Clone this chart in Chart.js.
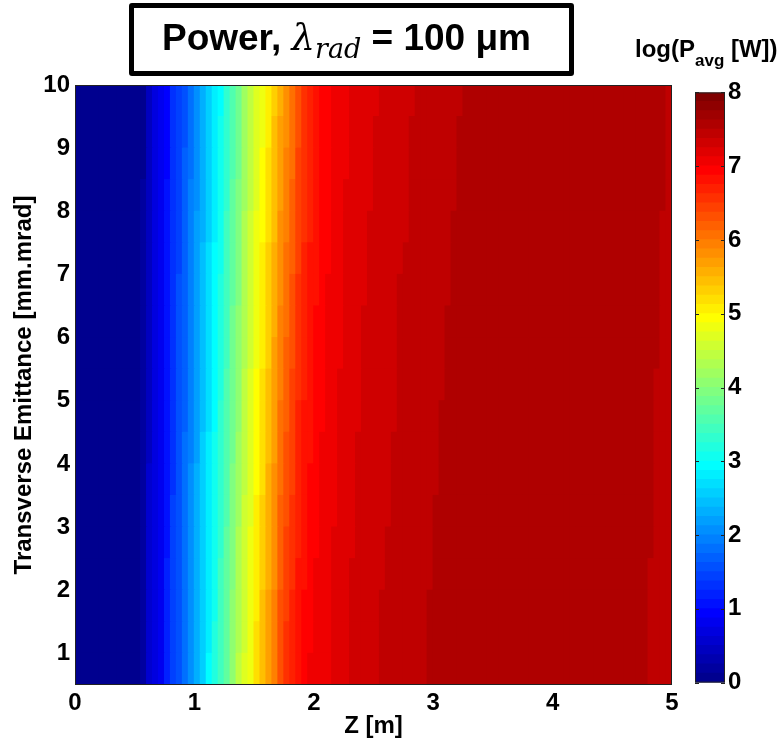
<!DOCTYPE html>
<html>
<head>
<meta charset="utf-8">
<title>Power, lambda_rad = 100 um</title>
<script src="https://cdn.jsdelivr.net/npm/chart.js@4.4.1/dist/chart.umd.min.js"></script>
<style>
  body { margin: 0; background: #fff; }
  #wrap { position: relative; width: 784px; height: 742px; overflow: hidden; }
  #heat { position: absolute; left: 0; top: 0; }
  #cbar { position: absolute; left: 690px; top: 75px; }
  #title {
    position: absolute; left: 129px; top: 3px; width: 445px; height: 73px;
    box-sizing: border-box; border: 5px solid #000; border-radius: 3px;
    font: bold 37px "Liberation Sans", Arial, sans-serif; color: #000;
    text-align: center; line-height: 60px; white-space: nowrap; padding-right: 10px;
  }
  #title .math { font-family: "DejaVu Serif", serif; font-style: italic; font-weight: normal; }
  #title sub { font-size: 27px; vertical-align: -8px; line-height: 0; }
  #cblabel {
    position: absolute; left: 635px; top: 37px; white-space: nowrap;
    font: bold 24px "Liberation Sans", Arial, sans-serif;
    line-height: 24px; color: #000;
  }
  #cblabel sub { font-size: 17px; vertical-align: -9px; line-height: 0; }
</style>
</head>
<body>
<div id="wrap">
  <canvas id="heat" width="784" height="742"></canvas>
  <canvas id="cbar" width="94" height="625"></canvas>
  <div id="title">Power, <span class="math">λ<sub>rad</sub></span> = 100 μm</div>
  <div id="cblabel">log(P<sub>avg</sub> [W])</div>
</div>
<script>
// Z des cellules (centres, m)
const zCentres = [0.025, 0.075, 0.125, 0.175, 0.225, 0.275, 0.325, 0.375, 0.425, 0.475,
  0.525, 0.575, 0.625, 0.675, 0.725, 0.775, 0.825, 0.875, 0.925, 0.975,
  1.025, 1.075, 1.125, 1.175, 1.225, 1.275, 1.325, 1.375, 1.425, 1.475,
  1.525, 1.575, 1.625, 1.675, 1.725, 1.775, 1.825, 1.875, 1.925, 1.975,
  2.025, 2.075, 2.125, 2.175, 2.225, 2.275, 2.325, 2.375, 2.425, 2.475,
  2.525, 2.575, 2.625, 2.675, 2.725, 2.775, 2.825, 2.875, 2.925, 2.975,
  3.025, 3.075, 3.125, 3.175, 3.225, 3.275, 3.325, 3.375, 3.425, 3.475,
  3.525, 3.575, 3.625, 3.675, 3.725, 3.775, 3.825, 3.875, 3.925, 3.975,
  4.025, 4.075, 4.125, 4.175, 4.225, 4.275, 4.325, 4.375, 4.425, 4.475,
  4.525, 4.575, 4.625, 4.675, 4.725, 4.775, 4.825, 4.875, 4.925, 4.975];

// bords des lignes d'emittance (mm.mrad)
const emittanceEdges = [0.5, 1, 1.5, 2, 2.5, 3, 3.5, 4, 4.5, 5, 5.5, 6, 6.5, 7, 7.5, 8, 8.5, 9, 9.5, 10];

const zTicks = [0, 1, 2, 3, 4, 5];
const emittanceTicks = [1, 2, 3, 4, 5, 6, 7, 8, 9, 10];
const colourTicks = [0, 1, 2, 3, 4, 5, 6, 7, 8];

// log10(Pavg [W]) : une colonne par Z, valeurs de l'emittance 0.5 (bas) a 10 (haut)
const logPowerByZ = [
  [0,0,0,0,0,0,0,0,0,0,0,0,0,0,0,0,0,0,0],
  [0,0,0,0,0,0,0,0,0,0,0,0,0,0,0,0,0,0,0],
  [0,0,0,0,0,0,0,0,0,0,0,0,0,0,0,0,0,0,0],
  [0,0,0,0,0,0,0,0,0,0,0,0,0,0,0,0,0,0,0],
  [0,0,0,0,0,0,0,0,0,0,0,0,0,0,0,0,0,0,0],
  [0,0,0,0,0,0,0,0,0,0,0,0,0,0,0,0,0,0,0],
  [0,0,0,0,0,0,0,0,0,0,0,0,0,0,0,0,0,0,0],
  [0,0,0,0,0,0,0,0,0,0,0,0,0,0,0,0,0,0,0],
  [0,0,0,0,0,0,0,0,0,0,0,0,0,0,0,0,0,0,0],
  [0,0,0,0,0,0,0,0,0,0,0,0,0,0,0,0,0,0,0],
  [0.08,0.08,0.08,0.07,0.07,0.07,0.07,0.06,0.06,0.06,0.06,0.06,0.05,0.05,0.05,0.05,0.04,0.04,0.04],
  [0.16,0.16,0.16,0.15,0.15,0.15,0.15,0.14,0.14,0.14,0.14,0.14,0.13,0.13,0.13,0.13,0.12,0.12,0.12],
  [0.52,0.52,0.51,0.51,0.50,0.50,0.50,0.49,0.49,0.49,0.48,0.48,0.47,0.47,0.47,0.46,0.46,0.45,0.45],
  [0.72,0.72,0.72,0.71,0.71,0.71,0.71,0.70,0.70,0.70,0.70,0.70,0.69,0.69,0.69,0.69,0.68,0.68,0.68],
  [0.86,0.86,0.85,0.85,0.84,0.84,0.84,0.83,0.83,0.83,0.82,0.82,0.81,0.81,0.81,0.80,0.80,0.79,0.79],
  [1.16,1.15,1.14,1.13,1.12,1.11,1.10,1.09,1.08,1.06,1.05,1.04,1.03,1.02,1.01,1.00,0.99,0.98,0.97],
  [1.43,1.42,1.41,1.40,1.39,1.38,1.37,1.36,1.35,1.34,1.33,1.32,1.31,1.30,1.29,1.28,1.27,1.26,1.25],
  [1.61,1.60,1.59,1.58,1.57,1.57,1.56,1.55,1.54,1.53,1.52,1.51,1.50,1.49,1.49,1.48,1.47,1.46,1.45],
  [1.84,1.83,1.81,1.80,1.79,1.78,1.76,1.75,1.74,1.73,1.71,1.70,1.69,1.67,1.66,1.65,1.64,1.62,1.61],
  [2.08,2.07,2.05,2.04,2.03,2.01,2.00,1.99,1.97,1.96,1.95,1.93,1.92,1.91,1.89,1.88,1.87,1.85,1.84],
  [2.35,2.33,2.32,2.30,2.29,2.27,2.26,2.24,2.23,2.21,2.19,2.18,2.16,2.15,2.13,2.12,2.10,2.09,2.07],
  [2.62,2.60,2.58,2.57,2.55,2.53,2.51,2.50,2.48,2.46,2.44,2.42,2.41,2.39,2.37,2.35,2.34,2.32,2.30],
  [2.88,2.86,2.84,2.82,2.80,2.79,2.77,2.75,2.73,2.71,2.69,2.67,2.65,2.63,2.62,2.60,2.58,2.56,2.54],
  [3.15,3.13,3.11,3.09,3.07,3.04,3.02,3.00,2.98,2.96,2.94,2.92,2.90,2.88,2.85,2.83,2.81,2.79,2.77],
  [3.47,3.44,3.42,3.39,3.36,3.34,3.31,3.28,3.26,3.23,3.20,3.18,3.15,3.12,3.10,3.07,3.04,3.02,2.99],
  [3.74,3.71,3.69,3.66,3.64,3.61,3.59,3.56,3.54,3.51,3.48,3.46,3.43,3.41,3.38,3.36,3.33,3.31,3.28],
  [4.06,4.03,4.01,3.98,3.95,3.92,3.90,3.87,3.84,3.82,3.79,3.76,3.73,3.71,3.68,3.65,3.62,3.60,3.57],
  [4.38,4.35,4.32,4.28,4.25,4.22,4.19,4.15,4.12,4.09,4.06,4.03,3.99,3.96,3.93,3.90,3.86,3.83,3.80],
  [4.65,4.62,4.59,4.57,4.54,4.51,4.48,4.45,4.42,4.40,4.37,4.34,4.31,4.28,4.25,4.23,4.20,4.17,4.14],
  [4.85,4.83,4.80,4.78,4.75,4.73,4.70,4.68,4.65,4.63,4.61,4.58,4.56,4.53,4.51,4.48,4.46,4.43,4.41],
  [5.16,5.13,5.10,5.07,5.04,5.02,4.99,4.96,4.93,4.90,4.87,4.84,4.81,4.78,4.76,4.73,4.70,4.67,4.64],
  [5.45,5.42,5.38,5.35,5.31,5.28,5.24,5.21,5.17,5.14,5.10,5.07,5.03,5.00,4.96,4.93,4.89,4.86,4.82],
  [5.70,5.67,5.63,5.60,5.56,5.53,5.50,5.46,5.43,5.40,5.36,5.33,5.29,5.26,5.23,5.19,5.16,5.12,5.09],
  [5.97,5.94,5.90,5.87,5.83,5.80,5.76,5.73,5.69,5.66,5.63,5.59,5.56,5.52,5.49,5.45,5.42,5.38,5.35],
  [6.33,6.29,6.25,6.21,6.17,6.13,6.09,6.05,6.01,5.97,5.92,5.88,5.84,5.80,5.76,5.72,5.68,5.64,5.60],
  [6.54,6.50,6.46,6.42,6.38,6.34,6.30,6.26,6.22,6.18,6.13,6.09,6.05,6.01,5.97,5.93,5.89,5.85,5.81],
  [6.70,6.66,6.63,6.59,6.56,6.52,6.48,6.45,6.41,6.38,6.34,6.30,6.27,6.23,6.19,6.16,6.12,6.09,6.05],
  [6.86,6.83,6.80,6.77,6.74,6.72,6.69,6.66,6.63,6.60,6.57,6.54,6.51,6.48,6.46,6.43,6.40,6.37,6.34],
  [6.94,6.92,6.89,6.87,6.85,6.82,6.80,6.78,6.75,6.73,6.71,6.68,6.66,6.64,6.61,6.59,6.57,6.54,6.52],
  [7.00,6.98,6.96,6.94,6.92,6.91,6.89,6.87,6.85,6.83,6.81,6.79,6.77,6.75,6.74,6.72,6.70,6.68,6.66],
  [7.04,7.03,7.01,7.00,6.98,6.97,6.95,6.94,6.92,6.91,6.89,6.88,6.86,6.85,6.83,6.82,6.80,6.79,6.77],
  [7.08,7.07,7.06,7.05,7.04,7.02,7.01,7.00,6.99,6.98,6.97,6.96,6.95,6.94,6.92,6.91,6.90,6.89,6.88],
  [7.11,7.10,7.09,7.08,7.07,7.06,7.05,7.04,7.03,7.03,7.02,7.01,7.00,6.99,6.98,6.97,6.96,6.95,6.94],
  [7.16,7.15,7.14,7.14,7.13,7.12,7.11,7.10,7.09,7.09,7.08,7.07,7.06,7.05,7.04,7.04,7.03,7.02,7.01],
  [7.20,7.19,7.18,7.18,7.17,7.16,7.15,7.15,7.14,7.13,7.12,7.11,7.11,7.10,7.09,7.08,7.08,7.07,7.06],
  [7.24,7.23,7.23,7.22,7.21,7.20,7.20,7.19,7.18,7.18,7.17,7.16,7.15,7.15,7.14,7.13,7.12,7.12,7.11],
  [7.27,7.26,7.26,7.25,7.24,7.23,7.23,7.22,7.21,7.21,7.20,7.19,7.18,7.18,7.17,7.16,7.15,7.15,7.14],
  [7.30,7.29,7.29,7.28,7.27,7.26,7.26,7.25,7.24,7.24,7.23,7.22,7.21,7.21,7.20,7.19,7.18,7.18,7.17],
  [7.32,7.31,7.31,7.30,7.29,7.29,7.28,7.27,7.27,7.26,7.25,7.25,7.24,7.23,7.23,7.22,7.21,7.21,7.20],
  [7.35,7.34,7.34,7.33,7.32,7.31,7.31,7.30,7.29,7.29,7.28,7.27,7.26,7.26,7.25,7.24,7.23,7.23,7.22],
  [7.37,7.36,7.36,7.35,7.34,7.33,7.33,7.32,7.31,7.31,7.30,7.29,7.28,7.28,7.27,7.26,7.25,7.25,7.24],
  [7.39,7.38,7.38,7.37,7.36,7.36,7.35,7.34,7.34,7.33,7.32,7.32,7.31,7.30,7.30,7.29,7.28,7.28,7.27],
  [7.40,7.39,7.39,7.38,7.38,7.37,7.36,7.36,7.35,7.35,7.34,7.33,7.33,7.32,7.31,7.31,7.30,7.30,7.29],
  [7.42,7.41,7.41,7.40,7.40,7.39,7.38,7.38,7.37,7.37,7.36,7.35,7.35,7.34,7.33,7.33,7.32,7.32,7.31],
  [7.44,7.43,7.43,7.42,7.42,7.41,7.41,7.40,7.40,7.39,7.39,7.38,7.38,7.37,7.37,7.36,7.36,7.35,7.35],
  [7.45,7.44,7.44,7.43,7.43,7.42,7.42,7.41,7.41,7.40,7.39,7.39,7.38,7.38,7.37,7.37,7.36,7.36,7.35],
  [7.46,7.46,7.45,7.45,7.44,7.44,7.43,7.43,7.42,7.42,7.41,7.41,7.40,7.40,7.39,7.39,7.38,7.38,7.37],
  [7.48,7.48,7.47,7.47,7.46,7.46,7.45,7.45,7.44,7.44,7.43,7.43,7.42,7.42,7.41,7.41,7.40,7.40,7.39],
  [7.49,7.49,7.48,7.48,7.47,7.47,7.46,7.46,7.45,7.45,7.44,7.44,7.43,7.43,7.42,7.42,7.41,7.41,7.40],
  [7.52,7.51,7.50,7.49,7.49,7.48,7.48,7.47,7.47,7.46,7.46,7.45,7.45,7.44,7.44,7.43,7.43,7.42,7.42],
  [7.53,7.52,7.52,7.51,7.51,7.50,7.49,7.49,7.48,7.48,7.47,7.47,7.46,7.46,7.45,7.45,7.45,7.44,7.44],
  [7.54,7.54,7.53,7.53,7.52,7.52,7.51,7.51,7.50,7.49,7.49,7.48,7.48,7.47,7.47,7.46,7.46,7.46,7.45],
  [7.54,7.54,7.54,7.53,7.53,7.53,7.52,7.52,7.51,7.51,7.50,7.50,7.49,7.49,7.48,7.48,7.48,7.47,7.47],
  [7.55,7.54,7.54,7.54,7.53,7.53,7.53,7.52,7.52,7.52,7.51,7.51,7.51,7.50,7.50,7.49,7.49,7.48,7.48],
  [7.55,7.55,7.55,7.54,7.54,7.54,7.53,7.53,7.53,7.52,7.52,7.52,7.51,7.51,7.51,7.50,7.50,7.50,7.49],
  [7.55,7.55,7.55,7.55,7.54,7.54,7.54,7.54,7.53,7.53,7.53,7.53,7.52,7.52,7.52,7.52,7.51,7.51,7.51],
  [7.55,7.55,7.55,7.55,7.55,7.55,7.54,7.54,7.54,7.54,7.54,7.54,7.53,7.53,7.53,7.53,7.53,7.52,7.52],
  [7.55,7.55,7.55,7.55,7.55,7.55,7.55,7.55,7.54,7.54,7.54,7.54,7.54,7.54,7.53,7.53,7.53,7.53,7.53],
  [7.55,7.55,7.55,7.55,7.55,7.55,7.55,7.55,7.55,7.55,7.54,7.54,7.54,7.54,7.54,7.54,7.54,7.54,7.54],
  [7.55,7.55,7.55,7.55,7.55,7.55,7.55,7.55,7.55,7.55,7.55,7.55,7.55,7.55,7.54,7.54,7.54,7.54,7.54],
  [7.55,7.55,7.55,7.55,7.55,7.55,7.55,7.55,7.55,7.55,7.55,7.55,7.55,7.55,7.55,7.55,7.55,7.55,7.55],
  [7.55,7.55,7.55,7.55,7.55,7.55,7.55,7.55,7.55,7.55,7.55,7.55,7.55,7.55,7.55,7.55,7.55,7.55,7.55],
  [7.56,7.56,7.56,7.56,7.56,7.56,7.56,7.56,7.56,7.56,7.56,7.56,7.56,7.56,7.56,7.56,7.56,7.56,7.56],
  [7.56,7.56,7.56,7.56,7.56,7.56,7.56,7.56,7.56,7.56,7.56,7.56,7.56,7.56,7.56,7.56,7.56,7.56,7.56],
  [7.56,7.56,7.56,7.56,7.56,7.56,7.56,7.56,7.56,7.56,7.56,7.56,7.56,7.56,7.56,7.56,7.56,7.56,7.56],
  [7.56,7.56,7.56,7.56,7.56,7.56,7.56,7.56,7.56,7.56,7.56,7.56,7.56,7.56,7.56,7.56,7.56,7.56,7.56],
  [7.57,7.57,7.57,7.57,7.57,7.57,7.57,7.57,7.57,7.57,7.57,7.57,7.57,7.57,7.57,7.57,7.57,7.57,7.57],
  [7.57,7.57,7.57,7.57,7.57,7.57,7.57,7.57,7.57,7.57,7.57,7.57,7.57,7.57,7.57,7.57,7.57,7.57,7.57],
  [7.57,7.57,7.57,7.57,7.57,7.57,7.57,7.57,7.57,7.57,7.57,7.57,7.57,7.57,7.57,7.57,7.57,7.57,7.57],
  [7.57,7.57,7.57,7.57,7.57,7.57,7.57,7.57,7.57,7.57,7.57,7.57,7.57,7.57,7.57,7.57,7.57,7.57,7.57],
  [7.57,7.57,7.57,7.57,7.57,7.57,7.57,7.57,7.57,7.57,7.57,7.57,7.57,7.57,7.57,7.57,7.57,7.57,7.57],
  [7.57,7.57,7.57,7.57,7.57,7.57,7.57,7.57,7.57,7.57,7.57,7.57,7.57,7.57,7.57,7.57,7.57,7.57,7.57],
  [7.57,7.57,7.57,7.57,7.57,7.57,7.57,7.57,7.57,7.57,7.57,7.57,7.57,7.57,7.57,7.57,7.57,7.57,7.57],
  [7.56,7.56,7.56,7.56,7.56,7.56,7.56,7.56,7.56,7.56,7.56,7.56,7.56,7.56,7.56,7.56,7.56,7.56,7.56],
  [7.56,7.56,7.56,7.56,7.56,7.56,7.56,7.56,7.56,7.56,7.56,7.56,7.56,7.56,7.56,7.56,7.56,7.56,7.56],
  [7.56,7.56,7.56,7.56,7.56,7.56,7.56,7.56,7.56,7.56,7.56,7.56,7.56,7.56,7.56,7.56,7.56,7.56,7.56],
  [7.56,7.56,7.56,7.56,7.56,7.56,7.56,7.56,7.56,7.56,7.56,7.56,7.56,7.56,7.56,7.56,7.56,7.56,7.56],
  [7.55,7.55,7.55,7.55,7.55,7.55,7.55,7.55,7.55,7.55,7.55,7.55,7.55,7.55,7.55,7.55,7.55,7.55,7.55],
  [7.55,7.55,7.55,7.55,7.55,7.55,7.55,7.55,7.55,7.55,7.55,7.55,7.55,7.55,7.55,7.55,7.55,7.55,7.55],
  [7.55,7.55,7.55,7.55,7.55,7.55,7.55,7.55,7.55,7.55,7.55,7.55,7.55,7.55,7.55,7.55,7.55,7.55,7.55],
  [7.54,7.54,7.54,7.54,7.54,7.54,7.54,7.54,7.54,7.55,7.55,7.55,7.55,7.55,7.55,7.55,7.55,7.55,7.55],
  [7.53,7.53,7.53,7.53,7.53,7.54,7.54,7.54,7.54,7.54,7.54,7.54,7.55,7.55,7.55,7.55,7.55,7.55,7.55],
  [7.53,7.53,7.53,7.53,7.53,7.53,7.54,7.54,7.54,7.54,7.54,7.54,7.54,7.54,7.55,7.55,7.55,7.55,7.55],
  [7.52,7.52,7.52,7.52,7.53,7.53,7.53,7.53,7.53,7.53,7.54,7.54,7.54,7.54,7.54,7.54,7.55,7.55,7.55],
  [7.51,7.51,7.51,7.51,7.52,7.52,7.52,7.52,7.52,7.52,7.53,7.53,7.53,7.53,7.53,7.53,7.54,7.54,7.54],
  [7.50,7.50,7.50,7.51,7.51,7.51,7.51,7.51,7.52,7.52,7.52,7.52,7.52,7.52,7.53,7.53,7.53,7.53,7.53],
  [7.48,7.49,7.49,7.49,7.50,7.50,7.50,7.50,7.51,7.51,7.51,7.51,7.51,7.52,7.52,7.52,7.52,7.52,7.52],
  [7.47,7.47,7.47,7.48,7.48,7.48,7.48,7.49,7.49,7.49,7.50,7.50,7.50,7.50,7.51,7.51,7.51,7.51,7.51],
  [7.46,7.46,7.46,7.46,7.47,7.47,7.47,7.47,7.48,7.48,7.48,7.48,7.49,7.49,7.49,7.50,7.50,7.50,7.50],
  [7.44,7.44,7.44,7.45,7.45,7.45,7.45,7.46,7.46,7.46,7.46,7.47,7.47,7.47,7.48,7.48,7.48,7.49,7.49]
];

const cMin = 0, cMax = 8, nColours = 64;
const labelFont = { family: "'Liberation Sans', Arial, sans-serif", size: 24, weight: 'bold' };

// palette jet(64) de MATLAB
function jetColour(k) {
  const x = (k + 1) / nColours;
  const c = v => Math.round(255 * Math.max(0, Math.min(1, v)));
  const r = c(Math.min(4 * x - 1.5, -4 * x + 4.5));
  const g = c(Math.min(4 * x - 0.5, -4 * x + 3.5));
  const b = c(Math.min(4 * x + 0.5, -4 * x + 2.5));
  return `rgb(${r}, ${g}, ${b})`;
}

function colourIndex(v) {
  const k = Math.floor((v - cMin) / (cMax - cMin) * nColours);
  return Math.max(0, Math.min(nColours - 1, k));
}

// cadre noir autour de la zone de trace (+ petites graduations pour la barre)
const frame = {
  id: 'frame',
  afterDatasetsDraw(chart, args, opts) {
    const { ctx, chartArea: a } = chart;
    ctx.save();
    ctx.strokeStyle = '#222';
    ctx.lineWidth = 1;
    ctx.strokeRect(a.left + 0.5, a.top + 0.5, a.width - 1, a.height - 1);
    if (opts.ticks) {
      const y = chart.scales.y;
      y.ticks.forEach(t => {
        const py = Math.round(y.getPixelForValue(t.value)) + 0.5;
        ctx.beginPath();
        ctx.moveTo(a.left, py); ctx.lineTo(a.left + 4, py);
        ctx.moveTo(a.right - 4, py); ctx.lineTo(a.right, py);
        ctx.stroke();
      });
    }
    ctx.restore();
  }
};

// une serie de barres flottantes par bande d'emittance
const rowCount = emittanceEdges.length - 1;
const heatDatasets = [];
for (let r = 0; r < rowCount; r++) {
  heatDatasets.push({
    data: zCentres.map(z => ({ x: z, y: [emittanceEdges[r], emittanceEdges[r + 1]] })),
    backgroundColor: logPowerByZ.map(col => jetColour(colourIndex(col[r]))),
    grouped: false,
    barPercentage: 1,
    categoryPercentage: 1,
    borderWidth: 0,
    inflateAmount: 0.6
  });
}

const heatChart = new Chart(document.getElementById('heat'), {
  type: 'bar',
  data: { datasets: heatDatasets },
  options: {
    responsive: false,
    animation: false,
    events: [],
    layout: { padding: { left: 0, top: 85, right: 112, bottom: 0 } },
    plugins: { legend: { display: false }, tooltip: { enabled: false } },
    scales: {
      x: {
        type: 'linear', min: 0, max: 5, offset: false,
        afterBuildTicks: s => { s.ticks = zTicks.map(v => ({ value: v })); },
        afterFit: s => { s.height = 57; },
        grid: { display: false, drawTicks: false },
        border: { display: false },
        ticks: { font: labelFont, color: '#000', padding: 4, maxRotation: 0 },
        title: { display: true, text: 'Z [m]', font: labelFont, color: '#000', padding: { top: 0, bottom: 1 } }
      },
      y: {
        type: 'linear', min: 0.5, max: 10,
        afterBuildTicks: s => { s.ticks = emittanceTicks.map(v => ({ value: v })); },
        afterFit: s => { s.width = 75; },
        grid: { display: false, drawTicks: false },
        border: { display: false },
        ticks: { font: labelFont, color: '#000', padding: 5 },
        title: { display: true, text: 'Transverse Emittance [mm.mrad]', font: labelFont, color: '#000', padding: { top: 10, bottom: 0 } }
      }
    }
  },
  plugins: [frame]
});

// barre de couleurs
const colourChart = new Chart(document.getElementById('cbar'), {
  type: 'bar',
  data: {
    labels: [''],
    datasets: Array.from({ length: nColours }, (_, k) => ({
      data: [[cMin + k * (cMax - cMin) / nColours, cMin + (k + 1) * (cMax - cMin) / nColours]],
      backgroundColor: jetColour(k),
      grouped: false,
      barPercentage: 1,
      categoryPercentage: 1,
      borderWidth: 0,
      inflateAmount: 0.6
    }))
  },
  options: {
    responsive: false,
    animation: false,
    events: [],
    layout: { padding: { left: 5, top: 11, right: 0, bottom: 15 } },
    plugins: { legend: { display: false }, tooltip: { enabled: false }, frame: { ticks: true } },
    scales: {
      x: { display: false },
      y: {
        position: 'right', min: cMin, max: cMax,
        afterBuildTicks: s => { s.ticks = colourTicks.map(v => ({ value: v })); },
        afterFit: s => { s.width = 59; },
        grid: { display: false, drawTicks: false },
        border: { display: false },
        ticks: { font: labelFont, color: '#000', padding: 3 }
      }
    }
  },
  plugins: [frame]
});
</script>
</body>
</html>
